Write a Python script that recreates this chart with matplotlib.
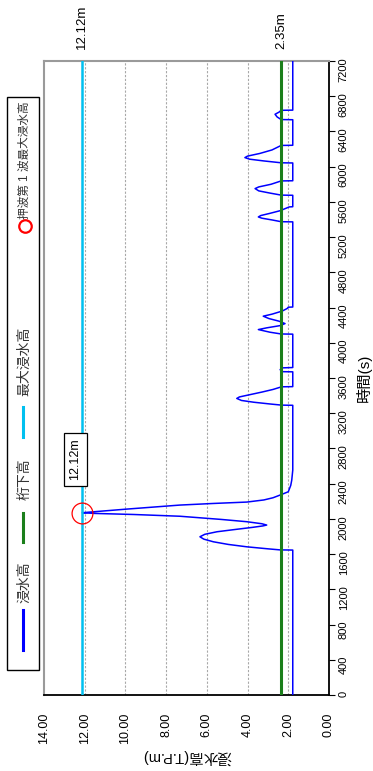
"""Inundation height time series (rotated layout, time on the vertical axis)."""

import matplotlib

matplotlib.use("Agg")
import matplotlib.pyplot as plt
from matplotlib.lines import Line2D
from matplotlib.patches import Rectangle

plt.rcParams["font.family"] = ["Liberation Sans", "Noto Sans CJK JP"]

# water level series
time_s = [0, 1646, 1648, 1660, 1683, 1710, 1740, 1770, 1797, 1825, 1854, 1880, 1904, 1920, 1930,
          1945, 1968, 1994, 2030, 2050, 2062, 2070, 2080, 2110, 2157, 2175, 2191, 2215, 2240,
          2270, 2308, 2380, 2440, 2554,
          3290, 3292, 3305, 3325, 3345, 3368, 3385, 3410, 3440, 3470, 3500, 3502,
          3670, 3672, 3695, 3715, 3719,
          4098, 4100, 4120, 4150, 4170, 4195, 4218, 4245, 4275, 4302, 4325, 4360, 4390, 4404, 4406,
          5373, 5375, 5395, 5415, 5429, 5445, 5470, 5500, 5543, 5545,
          5675, 5677, 5700, 5725, 5751, 5770, 5800, 5838, 5840,
          6042, 6044, 6065, 6085, 6103, 6120, 6150, 6190, 6241, 6243,
          6533, 6535, 6565, 6595, 6620, 6640, 6642, 7200]
level_m = [1.78, 1.78, 2.41, 3.00, 4.04, 4.95, 5.68, 6.15, 6.34, 6.10, 5.50, 4.60, 3.75, 3.25, 3.06,
           3.30, 4.04, 5.30, 7.32, 9.60, 11.5, 12.12, 11.6, 10.0, 7.32, 5.70, 4.04, 3.20, 2.75,
           2.41, 2.00, 1.88, 1.83, 1.78,
           1.78, 2.33, 2.90, 3.70, 4.30, 4.53, 4.40, 3.90, 3.30, 2.75, 2.33, 1.78,
           1.78, 2.30, 2.40, 2.30, 1.78,
           1.78, 2.35, 2.90, 3.47, 3.05, 2.40, 2.16, 2.45, 2.95, 3.23, 2.80, 2.30, 2.05, 2.00, 1.78,
           1.78, 2.35, 2.80, 3.30, 3.47, 3.35, 2.90, 2.40, 1.95, 1.78,
           1.78, 2.35, 2.90, 3.45, 3.63, 3.45, 2.85, 2.35, 1.78,
           1.78, 2.35, 3.20, 3.90, 4.13, 4.00, 3.40, 2.80, 2.35, 1.78,
           1.78, 2.35, 2.55, 2.65, 2.45, 2.35, 1.78, 1.78]

girder_m = 2.35
max_level_m = 12.12
first_wave_t = 2070
time_ticks = list(range(0, 7201, 400))
level_ticks = [0, 2, 4, 6, 8, 10, 12, 14]

labels = ["浸水高", "桁下高", "最大浸水高", "押波第 1 波最大浸水高"]
c_blue, c_green, c_cyan, c_red = "#0000ff", "#1b7f1b", "#00c0f0", "#ff0000"

W, H = 373, 771
fig = plt.figure(figsize=(W / 100, H / 100), dpi=100)


def fx(px):
    return px / W


def fy(py):
    return 1 - py / H


ax = fig.add_axes([fx(44), fy(695), fx(329) - fx(44), fy(61) - fy(695)])
ax.set_xlim(14, 0)
ax.set_ylim(0, 7200)

for v in level_ticks[1:-1]:
    ax.axvline(v, color="#a8a8a8", lw=0.8, ls=(0, (2, 1.5)), zorder=1)

ax.plot(level_m, time_s, color=c_blue, lw=1.1, zorder=3)
ax.axvline(girder_m, color=c_green, lw=2.2, zorder=4)
ax.axvline(max_level_m, color=c_cyan, lw=1.8, zorder=4)
ax.plot([max_level_m], [first_wave_t], "o", ms=15, mfc="none", mec=c_red, mew=0.9, zorder=5)

ax.text(12.45, 2673, f"{max_level_m:.2f}m", rotation=90, ha="center", va="center", fontsize=9,
        bbox=dict(boxstyle="square,pad=0.45", fc="white", ec="black", lw=0.9), zorder=6)
ax.text(max_level_m, 7200 + 140, f"{max_level_m:.2f}m", rotation=90, ha="center", va="bottom",
        fontsize=9.5, clip_on=False)
ax.text(girder_m, 7200 + 140, f"{girder_m:.2f}m", rotation=90, ha="center", va="bottom",
        fontsize=9.5, clip_on=False)

ax.set_xticks(level_ticks)
ax.set_xticklabels([f"{v:.2f}" for v in level_ticks], rotation=90, fontsize=9)
ax.tick_params(axis="x", length=0, pad=13)
ax.yaxis.tick_right()
ax.set_yticks(time_ticks)
ax.set_yticklabels([str(t) for t in time_ticks], rotation=90, fontsize=8)
ax.tick_params(axis="y", length=4, width=0.8, pad=3)
ax.set_xlabel("浸水高(T.P.m)", rotation=180, fontsize=10.5, labelpad=3)
ax.yaxis.set_label_position("right")
ax.set_ylabel("時間(s)", rotation=90, fontsize=11, labelpad=5)

for side in ("left", "top"):
    ax.spines[side].set_color("#9a9a9a")
    ax.spines[side].set_linewidth(1.5)
for side in ("bottom", "right"):
    ax.spines[side].set_color("black")
    ax.spines[side].set_linewidth(1.3)

# legend box, drawn by hand because the entries are rotated
fig.add_artist(Rectangle((fx(7), fy(670)), fx(39) - fx(7), fy(97) - fy(670),
                         transform=fig.transFigure, fc="white", ec="black", lw=1.0))
for py0, py1, col in [(610, 650, c_blue), (513, 542, c_green), (407, 437, c_cyan)]:
    fig.add_artist(Line2D([fx(23), fx(23)], [fy(py1), fy(py0)], transform=fig.transFigure,
                          color=col, lw=2.2))
fig.add_artist(Line2D([fx(25)], [fy(226)], transform=fig.transFigure, marker="o", ms=9,
                      mfc="none", mec=c_red, mew=1.6))
for py, text, size in zip([603, 500, 396, 219], labels, [10, 10, 10, 8.4]):
    fig.text(fx(24.5), fy(py), text, rotation=90, ha="center", va="bottom", fontsize=size,
             color="#333333")

fig.savefig("out.png", dpi=100)
